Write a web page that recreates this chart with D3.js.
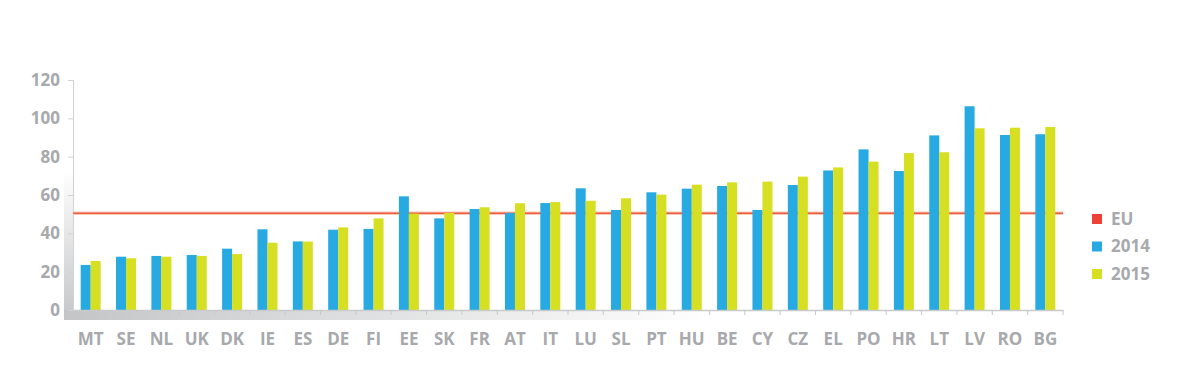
<!DOCTYPE html>
<html>
<head>
<meta charset="utf-8">
<script src="https://cdnjs.cloudflare.com/ajax/libs/d3/7.8.5/d3.min.js"></script>
<style>
  body { margin: 0; background: #fff; }
  svg text { font-family: "Open Sans", sans-serif; font-weight: 700; fill: #a7a9ac; }
</style>
</head>
<body>
<div id="chart"></div>
<script>
// data
const countries = ["MT", "SE", "NL", "UK", "DK", "IE", "ES", "DE", "FI", "EE", "SK", "FR", "AT", "IT",
    "LU", "SL", "PT", "HU", "BE", "CY", "CZ", "EL", "PO", "HR", "LT", "LV", "RO", "BG"];
const values2014 = [23.5, 27.8, 28.2, 28.7, 32.0, 42.1, 35.8, 41.9, 42.3, 59.3, 47.8, 52.7, 50.6, 55.8,
    63.5, 52.2, 61.4, 63.3, 64.7, 52.2, 65.2, 72.8, 83.8, 72.5, 91.1, 106.3, 91.3, 91.7];
const values2015 = [25.6, 27.0, 27.8, 28.2, 29.2, 35.1, 35.7, 43.1, 47.8, 50.3, 50.6, 53.6, 55.7, 56.3,
    57.0, 58.3, 60.2, 65.4, 66.6, 67.0, 69.6, 74.4, 77.4, 81.9, 82.3, 94.8, 95.1, 95.5];
const euValue = 50.5;
const yTicks = [0, 20, 40, 60, 80, 100, 120];
const seriesNames = ["2014", "2015"];
const legendLabels = ["EU", "2014", "2015"];

const colors = { "EU": "#ef4136", "2014": "#27aae1", "2015": "#d7df23" };

const width = 1190, height = 377;
const plotLeft = 73, plotRight = 1063, plotTop = 80, plotBottom = 310;

const svg = d3.select("#chart").append("svg")
    .attr("width", width)
    .attr("height", height);

const defs = svg.append("defs");
const hGrad = defs.append("linearGradient").attr("id", "hgrad")
    .attr("x1", "0").attr("x2", "1").attr("y1", "0").attr("y2", "0");
hGrad.append("stop").attr("offset", "0").attr("stop-color", "#c4c5c7");
hGrad.append("stop").attr("offset", "1").attr("stop-color", "#ffffff");
const vGrad = defs.append("linearGradient").attr("id", "vgrad")
    .attr("x1", "0").attr("x2", "0").attr("y1", "0").attr("y2", "1");
vGrad.append("stop").attr("offset", "0").attr("stop-color", "#ffffff");
vGrad.append("stop").attr("offset", "1").attr("stop-color", "#c4c5c7");

const x = d3.scaleBand().domain(countries).range([plotLeft, plotRight]).padding(0);
const y = d3.scaleLinear().domain([0, 120]).range([plotBottom, plotTop]);
const bw = x.bandwidth();
const xs = d3.scaleBand().domain(seriesNames).range([bw / 2 - 10, bw / 2 + 10]);

// grey shading under and left of the axes
svg.append("rect")
    .attr("x", 64).attr("y", 170).attr("width", 9).attr("height", 150)
    .attr("fill", "url(#vgrad)");
svg.append("rect")
    .attr("x", 64).attr("y", plotBottom).attr("width", 650).attr("height", 10)
    .attr("fill", "url(#hgrad)");

// y axis
const yAxis = svg.append("g")
    .attr("transform", `translate(${plotLeft},0)`)
    .call(d3.axisLeft(y).tickValues(yTicks).tickSize(5).tickPadding(8));
yAxis.select(".domain").attr("stroke", "#d1d2d4");
yAxis.selectAll(".tick line").attr("stroke", "#d1d2d4");
yAxis.selectAll(".tick text")
    .style("font-size", "17px")
    .attr("fill", "#a7a9ac");

// EU line (behind the bars)
svg.append("line")
    .attr("x1", plotLeft).attr("x2", plotRight)
    .attr("y1", y(euValue)).attr("y2", y(euValue))
    .attr("stroke", "#f9cbbd").attr("stroke-width", 3.5);
svg.append("line")
    .attr("x1", plotLeft).attr("x2", plotRight)
    .attr("y1", y(euValue)).attr("y2", y(euValue))
    .attr("stroke", "#ef5a3a").attr("stroke-width", 1.4);

// bars
const rows = countries.map((c, i) => ({ country: c, "2014": values2014[i], "2015": values2015[i] }));
const groups = svg.append("g").selectAll("g")
    .data(rows)
    .enter().append("g")
    .attr("transform", d => `translate(${x(d.country)},0)`);

groups.selectAll("rect")
    .data(d => seriesNames.map(s => ({ key: s, value: d[s] })))
    .enter().append("rect")
    .attr("x", d => xs(d.key))
    .attr("width", xs.bandwidth())
    .attr("y", d => y(d.value))
    .attr("height", d => y(0) - y(d.value))
    .attr("fill", d => colors[d.key]);

// x axis
const xAxis = svg.append("g")
    .attr("transform", `translate(0,${plotBottom})`)
    .call(d3.axisBottom(x).tickSize(0).tickPadding(23));
xAxis.select(".domain").attr("stroke", "#c8c9cb").attr("stroke-width", 1.5);
xAxis.selectAll(".tick text")
    .style("font-size", "17px")
    .attr("fill", "#a7a9ac");
svg.append("g").selectAll("line")
    .data(countries)
    .enter().append("line")
    .attr("x1", d => x(d) + bw)
    .attr("x2", d => x(d) + bw)
    .attr("y1", plotBottom)
    .attr("y2", plotBottom + 5)
    .attr("stroke", "#c8c9cb");

// legend
const legend = svg.append("g")
    .selectAll("g")
    .data(legendLabels)
    .enter().append("g")
    .attr("transform", (d, i) => `translate(1092,${214 + i * 27.5})`);
legend.append("rect")
    .attr("width", 10).attr("height", 10)
    .attr("fill", d => colors[d]);
legend.append("text")
    .attr("x", 19).attr("y", 5)
    .attr("dy", "0.35em")
    .style("font-size", "17px")
    .text(d => d);
</script>
</body>
</html>
